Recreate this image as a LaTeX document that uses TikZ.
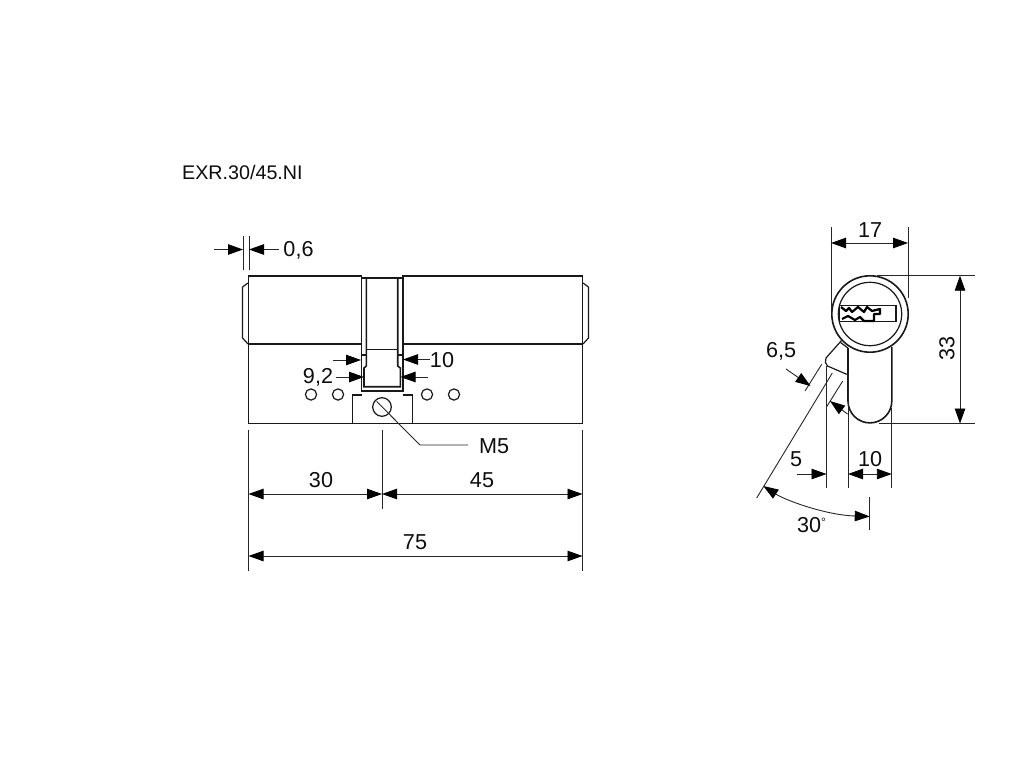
\documentclass[tikz,border=0pt]{standalone}
\usepackage{fontspec}
\setmainfont{Liberation Sans}
\usetikzlibrary{arrows.meta}
\tikzset{
    outline/.style={draw=black!90, line width=1.6pt, line join=miter},
    thinpart/.style={draw=black!90, line width=1.2pt},
    extline/.style={draw=black!85, line width=0.9pt},
    dimline/.style={draw=black!85, line width=0.9pt, arrows={-Triangle[length=15pt,width=10.5pt,black]}},
    bothline/.style={draw=black!85, line width=0.9pt, arrows={Triangle[length=15pt,width=10.5pt,black]-Triangle[length=15pt,width=10.5pt,black]}},
    dimtext/.style={font=\fontsize{21.6}{24}\selectfont, text=black!95, inner sep=0pt},
}
\begin{document}
\begin{tikzpicture}[x=1pt, y=-1pt]
    \useasboundingbox (0,0) rectangle (1024,768);
    \node[dimtext, font=\fontsize{19.7}{22}\selectfont, anchor=west] (title) at (182,172) {EXR.30/45.NI};
    % front view
    \draw[outline] (361.5,344) -- (248.5,344) -- (248.5,276) -- (361.5,276) -- (361.5,391) -- (403,391) -- (403,276) -- (582.5,276) -- (582.5,344) -- (403,344);
    \draw[outline] (248.5,344) -- (248.5,423.3) -- (582.5,423.3) -- (582.5,344);
    \draw[thinpart] (242.5,287) -- (248,283) (242.5,287) -- (242.5,338) -- (248,344);
    \draw[thinpart] (588.5,287) -- (583,283) (588.5,287) -- (588.5,338) -- (583,344);
    % middle part
    \draw[outline] (366.3,278) -- (366.3,366) -- (364,368) -- (364,386.7) -- (400.3,386.7) -- (400.3,368) -- (397.7,366) -- (397.7,278);
    \draw[thinpart] (361.5,278) -- (403,278) (366.3,349.5) -- (397.7,349.5);
    \draw[thinpart] (361.5,355) -- (366.3,355) (397.7,355) -- (403,355);
    \draw[thinpart] (352.3,423) -- (352.3,395) -- (361.5,395) (403,395) -- (412.3,395) -- (412.3,423);
    \draw[thinpart] (382,407) circle (9.3);
    \foreach \holex in {311,338,427,454} {
        \draw[thinpart] (\holex,394.5) circle (5.6);
    }
    \draw[extline] (376.7,401.5) -- (420,445) -- (468,445);
    \node[dimtext, anchor=west] (screw) at (479,446) {M5};
    % front view dimensions
    \draw[extline] (243,236) -- (243,270) (249,236) -- (249,270);
    \draw[dimline] (214,249.5) -- (243,249.5);
    \draw[dimline] (279,249.5) -- (249,249.5);
    \node[dimtext] (gap) at (298.5,250) {0,6};
    \draw[dimline] (333,360) -- (361,360);
    \draw[dimline] (430,359.5) -- (403,359.5);
    \node[dimtext] (inner) at (442,360) {10};
    \draw[dimline] (336,377) -- (364,377);
    \draw[dimline] (428,377) -- (400.5,377);
    \node[dimtext] (outer) at (318,377) {9,2};
    \draw[extline] (248.5,430) -- (248.5,571) (582.5,430) -- (582.5,571) (382,430) -- (382,509);
    \draw[bothline] (248.5,494) -- (382,494);
    \draw[bothline] (382,494) -- (582.5,494);
    \draw[bothline] (248.5,556) -- (582.5,556);
    \node[dimtext] (left) at (321,480) {30};
    \node[dimtext] (right) at (482,480) {45};
    \node[dimtext] (total) at (415,542) {75};
    % side view
    \draw[outline] (848,348) -- (848,401) arc[start angle=180, end angle=0, radius=21.9] -- (891.8,347);
    \draw[outline, fill=white] (870,314) circle (38.2);
    \draw[thinpart] (870,314) circle (31.7);
    \draw[thinpart] (839.5,305.7) rectangle (896,321.7);
    \draw[draw=black, line width=2.2pt, line join=round] (841,307) -- (846,311) -- (849,308) -- (852,312) -- (858,307) -- (864,312) -- (867,307) -- (872,311) -- (880,309) -- (880,314) -- (874,314) -- (874,321) -- (864,321) -- (860,317) -- (855,320) -- (848,316) -- (842,319);
    \draw[thinpart] (841.5,340.5) -- (826,358) .. controls (825,361) and (825,364) .. (827.5,366) -- (846.7,374.3);
    \draw[thinpart] (840.5,342.5) -- (848,348);
    % side view dimensions
    \draw[extline] (831,227) -- (831,310) (908,227) -- (908,298);
    \draw[bothline] (831,243) -- (908,243);
    \node[dimtext] (width) at (870,230) {17};
    \draw[extline] (877,275.7) -- (975,275.7) (879,423.5) -- (975,423.5);
    \draw[bothline] (960,275.7) -- (960,423.5);
    \node[dimtext, rotate=90] (height) at (947,348) {33};
    \draw[extline] (826.5,366) -- (826.5,488) (848,374) -- (848,488) (891.8,408) -- (891.8,488);
    \draw[dimline] (797,474) -- (826.5,474);
    \draw[bothline] (848,474) -- (891.8,474);
    \node[dimtext] (cam) at (796,459) {5};
    \node[dimtext] (body) at (870,459) {10};
    \draw[extline] (832.3,373) -- (756.7,498);
    \draw[extline] (821.7,364.3) -- (805,391) (842.7,381) -- (826.7,406.7);
    \draw[dimline] (786,369) -- (810.5,386);
    \draw[dimline] (847.5,414) -- (830,401);
    \node[dimtext] (camwidth) at (781,351) {6,5};
    \draw[extline] (869.7,497) -- (869.7,530);
    \draw[bothline] (763.3,486) .. controls (785,500) and (825,515) .. (869.7,516.5);
    \node[dimtext] (angle) at (811.5,525) {30\raisebox{6pt}{\fontsize{12}{12}\selectfont\textdegree}};
\end{tikzpicture}
\end{document}
